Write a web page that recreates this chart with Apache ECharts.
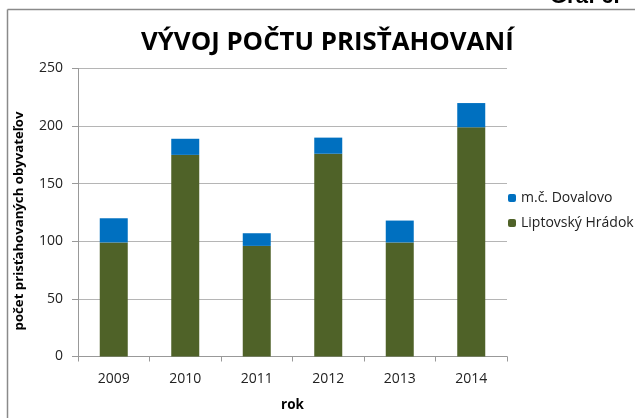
<!DOCTYPE html>
<html><head><meta charset="utf-8">
<script src="https://cdn.jsdelivr.net/npm/echarts@6/dist/echarts.min.js"></script>
<style>html,body{margin:0;padding:0;background:#fff}#c{width:635px;height:418px}</style>
</head><body><div id="c"></div>
<script>
const categories = ['2009','2010','2011','2012','2013','2014'];
const hradok = [99, 175, 96, 176, 99, 199];
const dovalovo = [21, 14, 11, 14, 19, 21];
const yTicks = [0, 50, 100, 150, 200, 250];

const chart = echarts.init(document.getElementById('c'), null, {renderer:'canvas'});
const font = "'Open Sans', 'DejaVu Sans', sans-serif";
chart.setOption({
  animation: false,
  backgroundColor: '#fff',
  title: {
    text: 'VÝVOJ POČTU PRISŤAHOVANÍ',
    left: 136, top: 25,
    textStyle: {fontFamily: font, fontSize: 25.8, fontWeight: 'bold', color: '#000'}
  },
  graphic: [
    {type:'line', shape:{x1:7.5,y1:9.5,x2:635,y2:9.5}, style:{stroke:'#8a8a8a', lineWidth:1.5}},
    {type:'line', shape:{x1:7.5,y1:9.5,x2:7.5,y2:418}, style:{stroke:'#8a8a8a', lineWidth:1.5}},
    {type:'text', left:550, top:-14, style:{text:'Graf 6.', font:"bold 22px 'Liberation Sans', sans-serif", fill:'#000'}}
  ],
  legend: {
    orient: 'vertical', left: 503, top: 186,
    itemWidth: 8, itemHeight: 8, itemGap: 11,
    data: ['m.č. Dovalovo', 'Liptovský Hrádok'],
    textStyle: {fontFamily: font, fontSize: 14, color: '#222'}
  },
  grid: {left: 78, right: 128, top: 68.5, bottom: 61.5},
  xAxis: {
    type: 'category', data: categories,
    name: 'rok', nameLocation: 'middle', nameGap: 42,
    nameTextStyle: {fontFamily: font, fontSize: 13.5, fontWeight: 'bold', color: '#000'},
    axisLine: {lineStyle: {color: '#999'}},
    axisTick: {show: true, length: 5, lineStyle: {color: '#999'}},
    axisLabel: {fontFamily: font, fontSize: 14, color: '#222', margin: 16}
  },
  yAxis: {
    type: 'value', min: yTicks[0], max: yTicks[yTicks.length-1], interval: 50,
    name: 'počet prisťahovaných obyvateľov', nameLocation: 'middle', nameGap: 52,
    nameTextStyle: {fontFamily: font, fontSize: 13.2, fontWeight: 'bold', color: '#000', padding: [0, 17, 0, 0]},
    axisLine: {show: true, lineStyle: {color: '#999'}},
    axisTick: {show: true, length: 6, lineStyle: {color: '#999'}},
    axisLabel: {fontFamily: font, fontSize: 14, color: '#222', margin: 15},
    splitLine: {lineStyle: {color: '#b5b5b5'}}
  },
  series: [
    {name: 'Liptovský Hrádok', type: 'bar', stack: 's', data: hradok, barWidth: 28,
     itemStyle: {color: '#4F6228'}},
    {name: 'm.č. Dovalovo', type: 'bar', stack: 's', data: dovalovo, barWidth: 28,
     itemStyle: {color: '#0070C0'}}
  ]
});
</script></body></html>
